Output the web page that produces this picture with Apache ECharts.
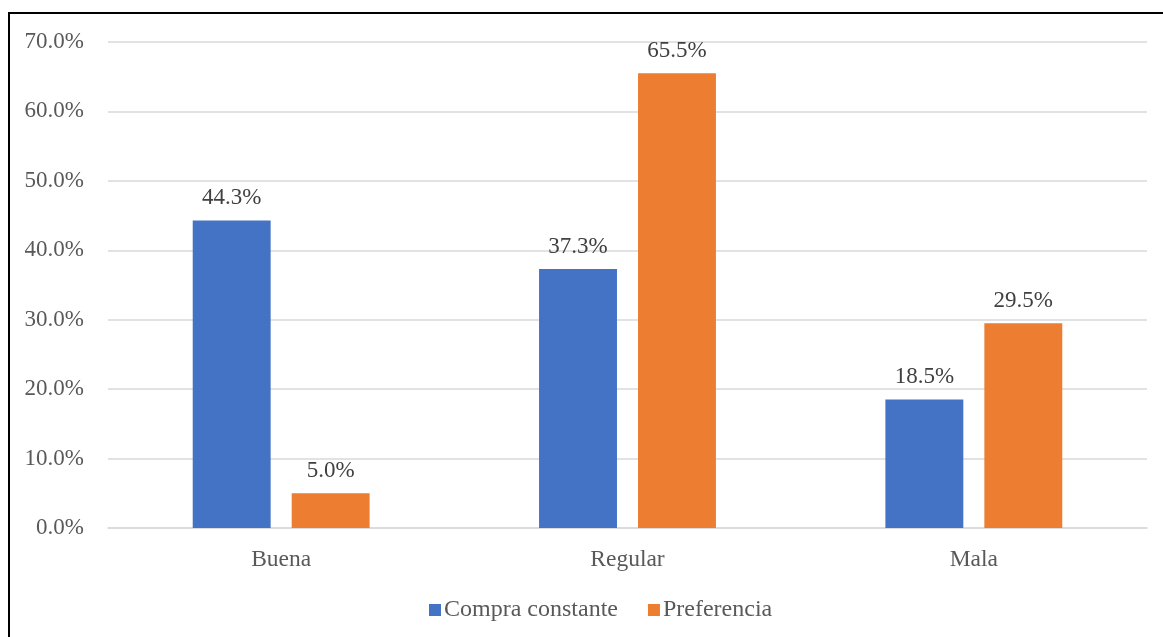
<!DOCTYPE html>
<html>
<head>
<meta charset="utf-8">
<script src="https://cdn.jsdelivr.net/npm/echarts@6/dist/echarts.min.js"></script>
<style>
  html, body { margin: 0; padding: 0; background: #fff; }
  #chart { width: 1163px; height: 637px; }
</style>
</head>
<body>
<div id="chart"></div>
<script>
// Categories and series values (percent)
const categories = ['Buena', 'Regular', 'Mala'];
const compraConstante = [44.3, 37.3, 18.5];
const preferencia = [5.0, 65.5, 29.5];
const seriesNames = ['Compra constante', 'Preferencia'];

const FONT = '"Liberation Serif", "Times New Roman", serif';
const TEXT = '#595959';

const chart = echarts.init(document.getElementById('chart'), null, { renderer: 'canvas' });

const labelCfg = {
  show: true,
  position: 'top',
  distance: 11,
  fontFamily: FONT,
  fontSize: 23,
  color: '#404040',
  formatter: p => p.value.toFixed(1) + '%'
};

chart.setOption({
  animation: false,
  backgroundColor: '#fff',
  grid: { left: 108, right: 16, top: 42, bottom: 109, containLabel: false },
  legend: {
    top: 593,
    left: 424,
    itemWidth: 12,
    itemHeight: 12,
    itemGap: 30,
    icon: 'rect',
    textStyle: { fontFamily: FONT, fontSize: 24, color: TEXT, padding: [0, 0, 0, -2] },
    data: seriesNames
  },
  xAxis: {
    type: 'category',
    data: categories,
    axisLine: { show: true, lineStyle: { color: '#d9d9d9', width: 1.5 } },
    axisTick: { show: false },
    axisLabel: { fontFamily: FONT, fontSize: 23.5, color: TEXT, margin: 20 }
  },
  yAxis: {
    type: 'value',
    min: 0,
    max: 70,
    interval: 10,
    axisLine: { show: false },
    axisTick: { show: false },
    splitLine: { lineStyle: { color: '#d9d9d9', width: 1.5 } },
    axisLabel: {
      fontFamily: FONT, fontSize: 23, color: TEXT, margin: 24,
      formatter: v => v.toFixed(1) + '%'
    }
  },
  graphic: [
    // outer frame edges
    { type: 'line', shape: { x1: 9, y1: 13, x2: 9, y2: 637 }, style: { stroke: '#000', lineWidth: 2 } },
    { type: 'line', shape: { x1: 8, y1: 13, x2: 1163, y2: 13 }, style: { stroke: '#000', lineWidth: 2 } }
  ],
  series: [
    {
      name: seriesNames[0],
      type: 'bar',
      data: compraConstante,
      barWidth: '22.5%',
      barGap: '27%',
      itemStyle: { color: '#4472C4' },
      label: labelCfg
    },
    {
      name: seriesNames[1],
      type: 'bar',
      data: preferencia,
      barWidth: '22.5%',
      barGap: '27%',
      itemStyle: { color: '#ED7D31' },
      label: labelCfg
    }
  ]
});
</script>
</body>
</html>
